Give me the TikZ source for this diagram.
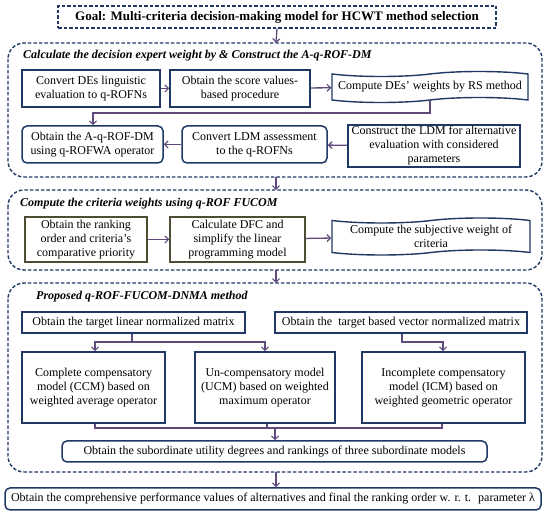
\documentclass[tikz,border=0pt]{standalone}
\usepackage{fontspec}
\setmainfont{Liberation Serif}
\usetikzlibrary{arrows.meta,shapes.symbols}
\definecolor{navy}{RGB}{31,56,100}
\definecolor{arr}{RGB}{96,74,123}
\definecolor{olive}{RGB}{78,76,50}
\begin{document}
\begin{tikzpicture}[x=1pt,y=-1pt,
  txt/.style={font=\fontsize{12}{14}\selectfont},
  box/.style={draw=navy,line width=1.5pt,align=center,txt,inner sep=1pt},
  rbox/.style={box,rounded corners=5pt},
  obox/.style={box,draw=olive},
  tbox/.style={draw=navy,line width=1.4pt,align=center,txt,inner sep=1pt,tape,tape bend height=5pt},
  sec/.style={draw=navy,line width=1.4pt,dash pattern=on 3.5pt off 2pt,rounded corners=16pt},
  ttl/.style={font=\fontsize{12}{14}\selectfont\bfseries\itshape,anchor=west,inner sep=0pt},
  conn/.style={draw=arr,line width=1.3pt},
  ar/.style={conn,-{Straight Barb[length=3.5pt,width=7pt,line width=1.2pt]}}
]
\useasboundingbox (0,0) rectangle (550,518);
% goal
\node[draw=navy,line width=1.4pt,dash pattern=on 3.5pt off 2pt,minimum width=438pt,minimum height=22pt,
  font=\fontsize{13}{15}\selectfont\bfseries,inner sep=0pt] (goal) at (277,17) {Goal: Multi-criteria decision-making model for HCWT method selection};
% section 1
\draw[sec] (8,43) rectangle (542,177);
\coordinate (s1top) at (276,43);
\coordinate (s1bot) at (276,177);
\node[ttl] (t1) at (23,56) {Calculate the decision expert weight by \& Construct the A-q-ROF-DM};
\node[box,minimum width=138pt,minimum height=37pt] (b1) at (91,88.5) {Convert DEs linguistic\\evaluation to q-ROFNs};
\node[box,minimum width=140pt,minimum height=37pt] (b2) at (240,88.5) {Obtain the score values-\\based procedure};
\node[tbox,minimum width=196pt,minimum height=31pt] (b3) at (430,87) {Compute DEs’ weights by RS method};
\node[rbox,minimum width=141pt,minimum height=37pt] (b4) at (92.5,144.5) {Obtain the A-q-ROF-DM\\using q-ROFWA operator};
\node[rbox,minimum width=145pt,minimum height=37pt] (b5) at (254.5,144.5) {Convert LDM assessment\\to the q-ROFNs};
\node[box,minimum width=172pt,minimum height=42pt] (b6) at (434,146) {Construct the LDM for alternative\\evaluation with considered\\parameters};
\draw[ar] (b1) -- (b2);
\draw[ar] (b2) -- (b3);
\coordinate (c1) at (430,113);
\coordinate (c2) at (93,113);
\draw[ar] (b3.south) -- (c1) -- (c2) -- (c2 |- b4.north);
\draw[ar] (b6) -- (b5);
\draw[ar] (b5) -- (b4);
\draw[ar] (goal.south) -- (s1top);
% section 2
\draw[sec] (8,190) rectangle (542,270);
\coordinate (s2top) at (276,190);
\coordinate (s2bot) at (276,270);
\draw[ar] (s1bot) -- (s2top);
\node[ttl] (t2) at (20,204) {Compute the criteria weights using q-ROF FUCOM};
\node[obox,minimum width=122pt,minimum height=45pt] (b7) at (86,239.5) {Obtain the ranking\\order and criteria's\\comparative priority};
\node[obox,minimum width=135pt,minimum height=45pt] (b8) at (237.5,239.5) {Calculate DFC and\\simplify the linear\\programming model};
\node[tbox,minimum width=198pt,minimum height=37pt] (b9) at (431,236.5) {Compute the subjective weight of\\criteria};
\draw[ar] (b7) -- (b8);
\draw[ar] (b8) -- (b9);
% section 3
\draw[sec] (8,283) rectangle (542,472);
\coordinate (s3top) at (276,283);
\coordinate (s3bot) at (276,472);
\draw[ar] (s2bot) -- (s3top);
\node[ttl] (t3) at (36,297) {Proposed q-ROF-FUCOM-DNMA method};
\node[box,minimum width=223pt,minimum height=21pt] (b10) at (133.5,322.5) {Obtain the target linear normalized matrix};
\node[box,minimum width=252pt,minimum height=21pt] (b11) at (401,322.5) {Obtain the \ target based vector normalized matrix};
\node[box,minimum width=143pt,minimum height=71pt] (b12) at (93.5,387.5) {Complete compensatory\\model (CCM) based on\\weighted average operator};
\node[box,minimum width=140pt,minimum height=71pt] (b13) at (265,387.5) {Un-compensatory model\\(UCM) based on weighted\\maximum operator};
\node[box,minimum width=163pt,minimum height=71pt] (b14) at (443.5,387.5) {Incomplete compensatory\\model (ICM) based on\\weighted geometric operator};
\node[rbox,minimum width=425pt,minimum height=21pt] (b15) at (274.5,451.5) {Obtain the subordinate utility degrees and rankings of three subordinate models};
\coordinate (d1) at (132,342);
\coordinate (d2) at (95,342);
\coordinate (d3) at (265,342);
\draw[conn] (b10.south -| d1) -- (d1);
\draw[ar] (d1) -- (d2) -- (d2 |- b12.north);
\draw[ar] (d1) -- (d3) -- (d3 |- b13.north);
\coordinate (e1) at (402,342);
\coordinate (e2) at (443,342);
\draw[ar] (b11.south -| e1) -- (e1) -- (e2) -- (e2 |- b14.north);
\coordinate (f1) at (95,428);
\coordinate (f2) at (267,428);
\coordinate (f3) at (442,428);
\coordinate (f4) at (275,428);
\draw[conn] (b12.south -| f1) -- (f1) -- (f3) -- (b14.south -| f3);
\draw[conn] (b13.south -| f2) -- (f2);
\draw[ar] (f4) -- (b15.north -| f4);
% final
\node[rbox,minimum width=536pt,minimum height=22pt] (fin) at (273,499) {Obtain the comprehensive performance values of alternatives and final the ranking order w. r. t. \ parameter λ};
\draw[ar] (s3bot) -- (s3bot |- fin.north);
\end{tikzpicture}
\end{document}
